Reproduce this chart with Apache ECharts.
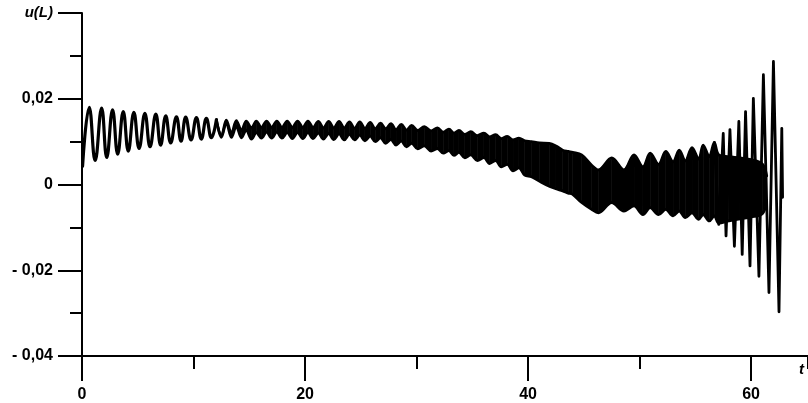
<!DOCTYPE html>
<html>
<head>
<meta charset="utf-8">
<script src="https://cdn.jsdelivr.net/npm/echarts@6/dist/echarts.min.js"></script>
<style>
html, body { margin: 0; padding: 0; background: #fff; }
#main { width: 808px; height: 403px; }
</style>
</head>
<body>
<div id="main"></div>
<script>
// tick labels
var xTickValues = [0, 20, 40, 60];
var xTickLabels = ['0', '20', '40', '60'];
var yTickValues = [-0.04, -0.02, 0, 0.02, 0.04];
var yTickLabels = ['- 0,04', '- 0,02', '0', '0,02', 'u(L)'];

// first part: clean oscillation, turning points
var tHead = [
  0.05, 0.65, 1.18, 1.76, 2.22, 2.74, 3.20, 3.70, 4.15, 4.65, 5.12, 5.64, 6.10, 6.62, 7.05, 7.51,
  7.95, 8.47, 8.88, 9.30, 9.78, 10.26, 10.70, 11.15, 11.60, 12.05
];
var uHead = [
  0.0043, 0.0180, 0.0056, 0.0178, 0.0063, 0.0174, 0.0071, 0.0170, 0.0078, 0.0168, 0.0084, 0.0166, 0.0088, 0.0164, 0.0092, 0.0160,
  0.0097, 0.0158, 0.0101, 0.0157, 0.0104, 0.0156, 0.0106, 0.0154, 0.0109, 0.0151
];

// dense part: time of each turning point, upper and lower edge of the black band
var tBand = [
  12.05, 12.50, 12.94, 13.40, 13.84, 14.30, 14.73,
  15.20, 15.63, 16.09, 16.55, 17.01, 17.47, 17.93, 18.40, 18.86, 19.33, 19.80, 20.26, 20.72, 21.19, 21.65, 22.12,
  22.58, 23.05, 23.51, 23.98, 24.44, 24.91, 25.37, 25.84, 26.30, 26.77, 27.23, 27.70, 28.16, 28.63, 29.10, 29.56,
  30.10, 30.70, 31.30, 31.87, 32.40, 32.90, 33.35, 33.80, 34.33, 34.86, 35.45, 36.04, 36.55, 37.09, 37.60, 38.13,
  38.65, 39.18, 39.70, 40.30, 41.00, 41.90, 42.50, 43.10, 43.60, 44.00, 44.80, 45.70, 46.30, 47.50, 48.60, 49.50,
  50.30, 50.95, 51.70, 52.35, 53.00, 53.55, 54.10, 54.70, 55.30, 55.70, 56.25, 56.70, 57.10, 58.00, 59.00, 60.00,
  61.00, 61.40
];
var bandTop = [
  0.0151, 0.0113, 0.0150, 0.0119, 0.0149, 0.0126, 0.0148,
  0.0132, 0.0148, 0.0133, 0.0148, 0.0133, 0.0148, 0.0133, 0.0148, 0.0133, 0.0148, 0.0133, 0.0148, 0.0133, 0.0147, 0.0132, 0.0147,
  0.0132, 0.0147, 0.0132, 0.0146, 0.0131, 0.0146, 0.0131, 0.0145, 0.0130, 0.0143, 0.0130, 0.0142, 0.0128, 0.0140, 0.0127, 0.0138,
  0.0126, 0.0135, 0.0125, 0.0132, 0.0122, 0.0129, 0.0120, 0.0126, 0.0117, 0.0123, 0.0114, 0.0120, 0.0111, 0.0116, 0.0107, 0.0112,
  0.0104, 0.0108, 0.0102, 0.0100, 0.0097, 0.0096, 0.0090, 0.0080, 0.0077, 0.0075, 0.0069, 0.0045, 0.0034, 0.0062, 0.0034, 0.0069,
  0.0041, 0.0073, 0.0047, 0.0077, 0.0053, 0.0080, 0.0055, 0.0086, 0.0059, 0.0092, 0.0065, 0.0098, 0.0069, 0.0065, 0.0062, 0.0058,
  0.0048, 0.0020
];
var bandBot = [
  0.0151, 0.0110, 0.0144, 0.0110, 0.0136, 0.0109, 0.0127,
  0.0106, 0.0121, 0.0108, 0.0122, 0.0108, 0.0122, 0.0108, 0.0121, 0.0107, 0.0121, 0.0107, 0.0121, 0.0107, 0.0120, 0.0106, 0.0119,
  0.0105, 0.0118, 0.0104, 0.0117, 0.0104, 0.0115, 0.0102, 0.0113, 0.0100, 0.0109, 0.0096, 0.0105, 0.0092, 0.0101, 0.0088, 0.0096,
  0.0083, 0.0090, 0.0078, 0.0084, 0.0073, 0.0079, 0.0068, 0.0075, 0.0062, 0.0069, 0.0056, 0.0063, 0.0049, 0.0056, 0.0041, 0.0047,
  0.0032, 0.0039, 0.0022, 0.0018, 0.0008, -0.0004, -0.0010, -0.0015, -0.0020, -0.0023, -0.0042, -0.0058, -0.0066, -0.0042, -0.0062, -0.0050,
  -0.0070, -0.0054, -0.0070, -0.0058, -0.0073, -0.0062, -0.0077, -0.0066, -0.0081, -0.0070, -0.0085, -0.0073, -0.0090, -0.0085, -0.0080, -0.0076,
  -0.0068, -0.0040
];

// growing spikes at the end
var tSpike = [56.70, 57.10, 57.50, 57.75, 58.10, 58.50, 58.90, 59.20, 59.50, 59.90, 60.20, 60.70, 61.10, 61.60, 62.00, 62.50, 62.75, 62.82];
var uSpike = [0.0098, -0.0093, 0.0119, -0.0120, 0.0128, -0.0144, 0.0147, -0.0163, 0.0170, -0.0190, 0.0201, -0.0214, 0.0256, -0.0252, 0.0287, -0.0297, 0.0131, -0.0030];

function pick(values, labels, v) {
  for (var i = 0; i < values.length; i++) {
    if (Math.abs(values[i] - v) < 1e-9) return labels[i];
  }
  return '';
}

function pairs(xs, ys) {
  return xs.map(function (x, i) { return [x, ys[i]]; });
}

// one item per step: [t0, top0, bot0, t1, top1, bot1]
var fillData = [];
for (var i = 0; i < tBand.length - 1; i++) {
  fillData.push([tBand[i], bandTop[i], bandBot[i], tBand[i + 1], bandTop[i + 1], bandBot[i + 1]]);
}

var axisCol = '#000';
var font = 'Liberation Sans, Arial, sans-serif';

function lineSeries(name, data, width, smooth) {
  return {
    name: name,
    type: 'line',
    data: data,
    smooth: smooth,
    showSymbol: false,
    symbol: 'none',
    lineStyle: { color: '#000', width: width, join: 'round', cap: 'round' }
  };
}

var chart = echarts.init(document.getElementById('main'));
var option = {
  animation: false,
  backgroundColor: '#fff',
  grid: { left: 82, right: -2, top: 13, bottom: 47 },
  xAxis: [{
    type: 'value',
    min: 0,
    max: 65.1,
    interval: 20,
    splitLine: { show: false },
    axisLine: { onZero: false, lineStyle: { color: axisCol, width: 2 } },
    axisTick: { length: 25, lineStyle: { color: axisCol, width: 2 } },
    axisLabel: {
      margin: 31,
      showMaxLabel: false,
      color: '#000',
      fontFamily: font,
      fontWeight: 'bold',
      fontSize: 16,
      formatter: function (v) { return pick(xTickValues, xTickLabels, v); }
    },
    name: 't',
    nameLocation: 'end',
    nameGap: -9,
    nameTextStyle: {
      color: '#000', fontFamily: font,
      fontWeight: 'bold', fontStyle: 'italic', fontSize: 15,
      verticalAlign: 'top', padding: [6, 0, 0, 0]
    }
  }, {
    type: 'value',
    min: 0,
    max: 65.1,
    interval: 10,
    position: 'bottom',
    splitLine: { show: false },
    axisLine: { show: false, onZero: false },
    axisTick: { length: 13, lineStyle: { color: axisCol, width: 2 } },
    axisLabel: { show: false }
  }],
  yAxis: {
    type: 'value',
    min: -0.04,
    max: 0.04,
    interval: 0.02,
    splitLine: { show: false },
    axisLine: { show: true, onZero: false, lineStyle: { color: axisCol, width: 2 } },
    axisTick: { show: true, length: 24, lineStyle: { color: axisCol, width: 2 } },
    minorTick: { show: true, splitNumber: 2, length: 12, lineStyle: { color: axisCol, width: 2 } },
    axisLabel: {
      margin: 29,
      color: '#000',
      fontFamily: font,
      fontWeight: 'bold',
      fontSize: 16,
      formatter: function (v) {
        var s = pick(yTickValues, yTickLabels, v);
        return s === 'u(L)' ? '{n|u(L)}' : s;
      },
      rich: {
        n: { fontFamily: font, fontWeight: 'bold', fontStyle: 'italic', fontSize: 15, color: '#000' }
      }
    }
  },
  series: [{
    name: 'fill',
    type: 'custom',
    data: fillData,
    encode: { x: [0, 3], y: [1, 2, 4, 5] },
    renderItem: function (params, api) {
      var a = api.coord([api.value(0), api.value(1)]);
      var b = api.coord([api.value(3), api.value(4)]);
      var c = api.coord([api.value(3), api.value(5)]);
      var d = api.coord([api.value(0), api.value(2)]);
      return {
        type: 'polygon',
        shape: { points: [a, b, c, d] },
        style: { fill: '#000', stroke: '#000', lineWidth: 0.6 }
      };
    }
  },
    lineSeries('head', pairs(tHead, uHead), 3.2, 0.45),
    lineSeries('top', pairs(tBand, bandTop), 2.8, 0.35),
    lineSeries('bottom', pairs(tBand, bandBot), 2.8, 0.35),
    lineSeries('spikes', pairs(tSpike, uSpike), 2.8, false)
  ]
};
chart.setOption(option);
</script>
</body>
</html>
